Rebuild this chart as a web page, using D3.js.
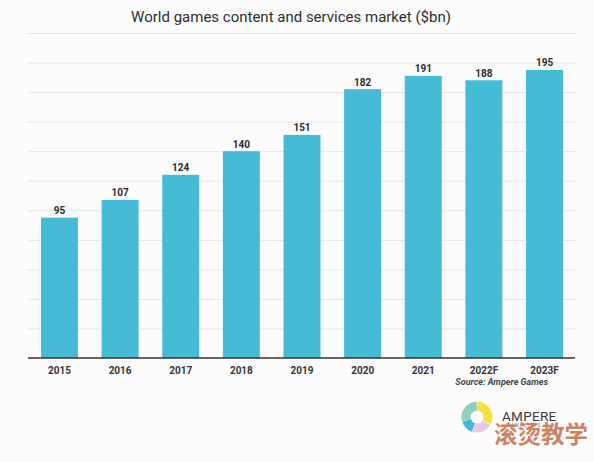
<!DOCTYPE html>
<html>
<head>
<meta charset="utf-8">
<script src="https://cdn.jsdelivr.net/npm/d3@7"></script>
<style>
  html, body { margin: 0; padding: 0; background: #fcfcfd; }
  svg { display: block; font-family: Roboto, "Noto Sans", sans-serif; }
</style>
</head>
<body>
<svg id="chart" width="594" height="462"></svg>
<script>
const categories = ["2015", "2016", "2017", "2018", "2019", "2020", "2021", "2022F", "2023F"];
const values = [95, 107, 124, 140, 151, 182, 191, 188, 195];
const gridTicks = [20, 40, 60, 80, 100, 120, 140, 160, 180, 200, 220];
const titleText = "World games content and services market ($bn)";
const sourceText = "Source: Ampere Games";
const logoSegments = [
  { start: 2, end: 118, color: "#f1e33f" },
  { start: 121, end: 196, color: "#e9c8e2" },
  { start: 199, end: 252, color: "#44b6d8" },
  { start: 255, end: 359, color: "#8fcfbf" }
];

const svg = d3.select("#chart");
const W = 594, H = 462;
svg.append("rect").attr("width", W).attr("height", H).attr("fill", "#fcfcfd");

const mLeft = 28, mRight = 576, mTop = 33, mBottom = 358;

const x = d3.scaleBand().domain(categories).range([mLeft, mRight])
  .paddingInner(0.39).paddingOuter(0.214);
const y = d3.scaleLinear().domain([0, 220]).range([mBottom, mTop]);

// gridlines
const grid = svg.append("g").attr("transform", `translate(${mLeft},0)`)
  .call(d3.axisLeft(y).tickValues(gridTicks).tickSize(-(mRight - mLeft)).tickFormat(""));
grid.select(".domain").remove();
grid.selectAll(".tick line").attr("stroke", "#e6e6e9").attr("stroke-width", 1);

// bars
svg.append("g").selectAll("rect").data(values).join("rect")
  .attr("x", (d, i) => x(categories[i]))
  .attr("y", d => y(d))
  .attr("width", x.bandwidth())
  .attr("height", d => y(0) - y(d))
  .attr("fill", "#45bbd6");

// value labels
svg.append("g").selectAll("text").data(values).join("text")
  .attr("x", (d, i) => x(categories[i]) + x.bandwidth() / 2)
  .attr("y", d => y(d) - 3.5)
  .attr("text-anchor", "middle")
  .attr("font-size", 10)
  .attr("font-weight", "bold")
  .attr("fill", "#2b2b2b")
  .text(d => d);

// x axis
const xa = svg.append("g").attr("transform", `translate(0,${mBottom})`)
  .call(d3.axisBottom(x).tickSize(0).tickPadding(9));
xa.select(".domain").attr("stroke", "#333").attr("stroke-width", 1.5)
  .attr("d", `M${mLeft},0H${mRight - 1}`);
xa.selectAll("text").attr("font-size", 10).attr("font-weight", "bold")
  .attr("fill", "#333").attr("font-family", "Roboto, sans-serif");

// title
svg.append("text").attr("x", 291).attr("y", 22).attr("text-anchor", "middle")
  .attr("font-size", 15).attr("fill", "#2e2e2e").text(titleText);

// source
svg.append("text").attr("x", 548).attr("y", 384.5).attr("text-anchor", "end")
  .attr("font-size", 9).attr("font-weight", "bold").attr("font-style", "italic")
  .attr("fill", "#444").text(sourceText);

// logo
const cx = 477, cy = 417;
const arc = d3.arc().innerRadius(6.5).outerRadius(15.5);
svg.append("g").attr("transform", `translate(${cx},${cy})`)
  .selectAll("path").data(logoSegments).join("path")
  .attr("d", d => arc({ startAngle: d.start * Math.PI / 180, endAngle: d.end * Math.PI / 180 }))
  .attr("fill", d => d.color);
svg.append("text").attr("x", 502).attr("y", 421).attr("font-size", 13.5)
  .attr("fill", "#3a3a3a").attr("letter-spacing", 0.3).text("AMPERE");
svg.append("text").attr("x", 511).attr("y", 426.5).attr("font-size", 5)
  .attr("fill", "#888").attr("letter-spacing", 1).text("ANALYSIS");

// watermark
svg.append("text").attr("x", 588).attr("y", 443).attr("text-anchor", "end")
  .attr("font-family", "'Noto Sans CJK SC', sans-serif").attr("font-weight", "bold")
  .attr("font-size", 23.5).attr("fill", "#c8714f").attr("fill-opacity", 0.9)
  .text("滚烫教学");
</script>
</body>
</html>
